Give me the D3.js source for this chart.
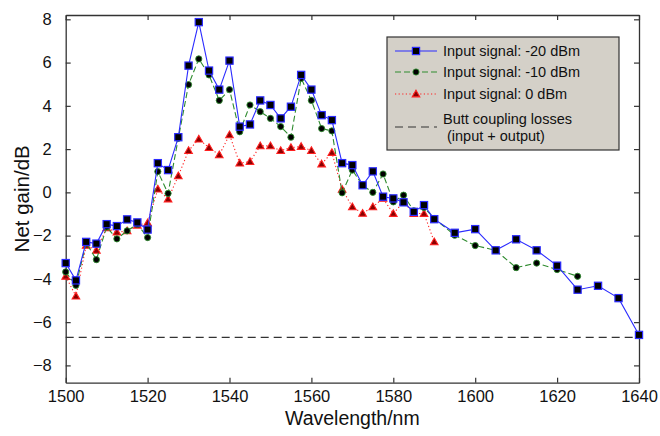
<!DOCTYPE html>
<html>
<head>
<meta charset="utf-8">
<script src="https://cdn.jsdelivr.net/npm/d3@7"></script>
<style>
  html, body { margin: 0; padding: 0; background: #fff; }
  svg { display: block; font-family: Arial, "Liberation Sans", Helvetica, sans-serif; }
</style>
</head>
<body>
<svg id="chart" width="660" height="436"></svg>
<script>
// Wavelength grid (nm): 2.5 nm steps up to 1590, then 5 nm steps
const wavelengthsFine = [1500, 1502.5, 1505, 1507.5, 1510, 1512.5, 1515, 1517.5, 1520, 1522.5,
  1525, 1527.5, 1530, 1532.5, 1535, 1537.5, 1540, 1542.5, 1545, 1547.5, 1550, 1552.5, 1555,
  1557.5, 1560, 1562.5, 1565, 1567.5, 1570, 1572.5, 1575, 1577.5, 1580, 1582.5, 1585, 1587.5, 1590];
const wavelengthsCoarse = [1595, 1600, 1605, 1610, 1615, 1620, 1625, 1630, 1635, 1640];

// Net gain (dB) for each input signal level
const gainMinus20 = [-3.27, -4.07, -2.29, -2.37, -1.47, -1.56, -1.25, -1.39, -1.72, 1.35,
  1.03, 2.55, 5.86, 7.87, 5.63, 4.75, 6.09, 3.04, 3.14, 4.25, 4.04, 3.42, 3.96,
  5.43, 4.75, 3.57, 3.34, 1.35, 1.26, 0.33, 0.97, -0.20, -0.28, -0.46, -0.90, -0.59, -1.24,
  -1.87, -1.70, -2.68, -2.17, -2.68, -3.39, -4.50, -4.32, -4.89, -6.59];
const gainMinus10 = [-3.68, -4.30, -2.34, -3.11, -1.60, -2.15, -1.78, -1.47, -2.09, 0.96,
  -0.05, 2.50, 4.98, 6.17, 5.43, 4.25, 4.75, 2.80, 4.04, 3.73, 3.42, 3.04, 2.55,
  5.27, 4.25, 2.95, 2.84, -0.02, 1.03, 0.32, 0.00, 0.85, -0.44, -0.13, -0.85, -0.70, -1.21,
  -1.98, -2.46, -2.68, -3.48, -3.27, -3.57, -3.88];
const gainZero = [-3.88, -4.80, -2.45, -2.68, -1.64, -1.84, -1.78, -1.52, -1.41, 0.15,
  -0.31, 0.76, 1.93, 2.46, 2.07, 1.73, 2.66, 1.35, 1.42, 2.15, 2.15, 1.93, 2.07,
  2.12, 1.93, 1.31, 1.84, 0.14, -0.67, -0.97, -0.67, -0.28, -0.98, -0.44, -0.98, -0.98, -2.29];

// Total butt coupling loss (input + output), dB
const couplingLoss = -6.7;

const xTicks = [1500, 1520, 1540, 1560, 1580, 1600, 1620, 1640];
const yTicks = [-8, -6, -4, -2, 0, 2, 4, 6, 8];
const seriesLabels = ["Input signal: -20 dBm", "Input signal: -10 dBm", "Input signal: 0 dBm"];
const lossLabel = ["Butt coupling losses", "(input + output)"];

const allWavelengths = wavelengthsFine.concat(wavelengthsCoarse);
const series = [
  { label: seriesLabels[0], values: gainMinus20, color: "#2b2bff", dash: null, marker: "square" },
  { label: seriesLabels[1], values: gainMinus10, color: "#2e8b2e", dash: "6,3", marker: "circle" },
  { label: seriesLabels[2], values: gainZero, color: "#ff2020", dash: "1.2,2.4", marker: "triangle" }
].map(s => ({ ...s, points: s.values.map((v, i) => [allWavelengths[i], v]) }));

const svg = d3.select("#chart");
const W = 660, H = 436;
const margin = { top: 15, right: 21, bottom: 53.3, left: 65.7 };
const iw = W - margin.left - margin.right;
const ih = H - margin.top - margin.bottom;

const x = d3.scaleLinear().domain([1500, 1640]).range([0, iw]);
const y = d3.scaleLinear().domain([-8.8, 8.2]).range([ih, 0]);

const g = svg.append("g").attr("transform", `translate(${margin.left},${margin.top})`);

// Axes with inward ticks on all four sides
const tickLen = 5;
const axisColor = "#333";
const axBottom = g.append("g").attr("transform", `translate(0,${ih})`)
  .call(d3.axisBottom(x).tickValues(xTicks).tickSizeInner(-tickLen).tickSizeOuter(0).tickPadding(8).tickFormat(d3.format("d")));
const axTop = g.append("g")
  .call(d3.axisTop(x).tickValues(xTicks).tickSizeInner(-tickLen).tickSizeOuter(0).tickFormat(""));
const axLeft = g.append("g")
  .call(d3.axisLeft(y).tickValues(yTicks).tickSizeInner(-tickLen).tickSizeOuter(0).tickPadding(14).tickFormat(d3.format("d")));
const axRight = g.append("g").attr("transform", `translate(${iw},0)`)
  .call(d3.axisRight(y).tickValues(yTicks).tickSizeInner(-tickLen).tickSizeOuter(0).tickFormat(""));

[axBottom, axTop, axLeft, axRight].forEach(a => {
  a.selectAll("path.domain").attr("stroke", axisColor).attr("stroke-width", 1.3);
  a.selectAll(".tick line").attr("stroke", axisColor).attr("stroke-width", 1.2);
  a.selectAll(".tick text").attr("fill", "#111").attr("font-size", 16.5)
    .attr("font-family", "Arial, 'Liberation Sans', sans-serif");
});

// Butt coupling loss reference line
g.append("line")
  .attr("x1", 0).attr("x2", iw)
  .attr("y1", y(couplingLoss)).attr("y2", y(couplingLoss))
  .attr("stroke", "#333").attr("stroke-width", 1.3).attr("stroke-dasharray", "8,5");

const line = d3.line().x(d => x(d[0])).y(d => y(d[1]));

function drawMarker(sel, s, cx, cy) {
  if (s.marker === "square") {
    sel.append("rect").attr("x", cx - 3.6).attr("y", cy - 3.6).attr("width", 7.2).attr("height", 7.2)
      .attr("fill", "#000").attr("stroke", s.color).attr("stroke-width", 1.2);
  } else if (s.marker === "circle") {
    sel.append("circle").attr("cx", cx).attr("cy", cy).attr("r", 3.1)
      .attr("fill", "#000").attr("stroke", s.color).attr("stroke-width", 0.9);
  } else {
    const r = 3.8;
    sel.append("path")
      .attr("d", `M${cx},${cy - r}L${cx + r},${cy + r * 0.75}L${cx - r},${cy + r * 0.75}Z`)
      .attr("fill", "#8b0000").attr("stroke", s.color).attr("stroke-width", 1.1);
  }
}

// Draw series back to front: 0 dBm, -10 dBm, -20 dBm
series.slice().reverse().forEach(s => {
  g.append("path").datum(s.points)
    .attr("fill", "none").attr("stroke", s.color).attr("stroke-width", 1.1)
    .attr("stroke-dasharray", s.dash)
    .attr("d", line);
  const mg = g.append("g");
  s.points.forEach(p => drawMarker(mg, s, x(p[0]), y(p[1])));
});

// Axis titles
svg.append("text")
  .attr("x", margin.left + iw / 2).attr("y", 425)
  .attr("text-anchor", "middle").attr("font-size", 19.5).attr("fill", "#111")
  .text("Wavelength/nm");
svg.append("text")
  .attr("transform", `translate(29,${margin.top + ih / 2}) rotate(-90)`)
  .attr("text-anchor", "middle").attr("font-size", 20.5).attr("fill", "#111")
  .text("Net gain/dB");

// Legend
const lg = svg.append("g").attr("transform", "translate(387,37)");
lg.append("rect").attr("width", 232).attr("height", 113)
  .attr("fill", "#d4d0c8").attr("stroke", "#333").attr("stroke-width", 1.2);
const rowY = [14, 35, 57];
series.forEach((s, i) => {
  const yy = rowY[i];
  lg.append("line").attr("x1", 8).attr("x2", 50).attr("y1", yy).attr("y2", yy)
    .attr("stroke", s.color).attr("stroke-width", 1.1).attr("stroke-dasharray", s.dash);
  drawMarker(lg, s, 29, yy);
  lg.append("text").attr("x", 56).attr("y", yy + 5).attr("font-size", 14.5).attr("fill", "#111")
    .text(s.label);
});
lg.append("line").attr("x1", 8).attr("x2", 50).attr("y1", 90).attr("y2", 90)
  .attr("stroke", "#333").attr("stroke-width", 1.2).attr("stroke-dasharray", "8,5");
lg.append("text").attr("x", 56).attr("y", 87).attr("font-size", 14.5).attr("fill", "#111").text(lossLabel[0]);
lg.append("text").attr("x", 60).attr("y", 104).attr("font-size", 14.5).attr("fill", "#111").text(lossLabel[1]);
</script>
</body>
</html>
